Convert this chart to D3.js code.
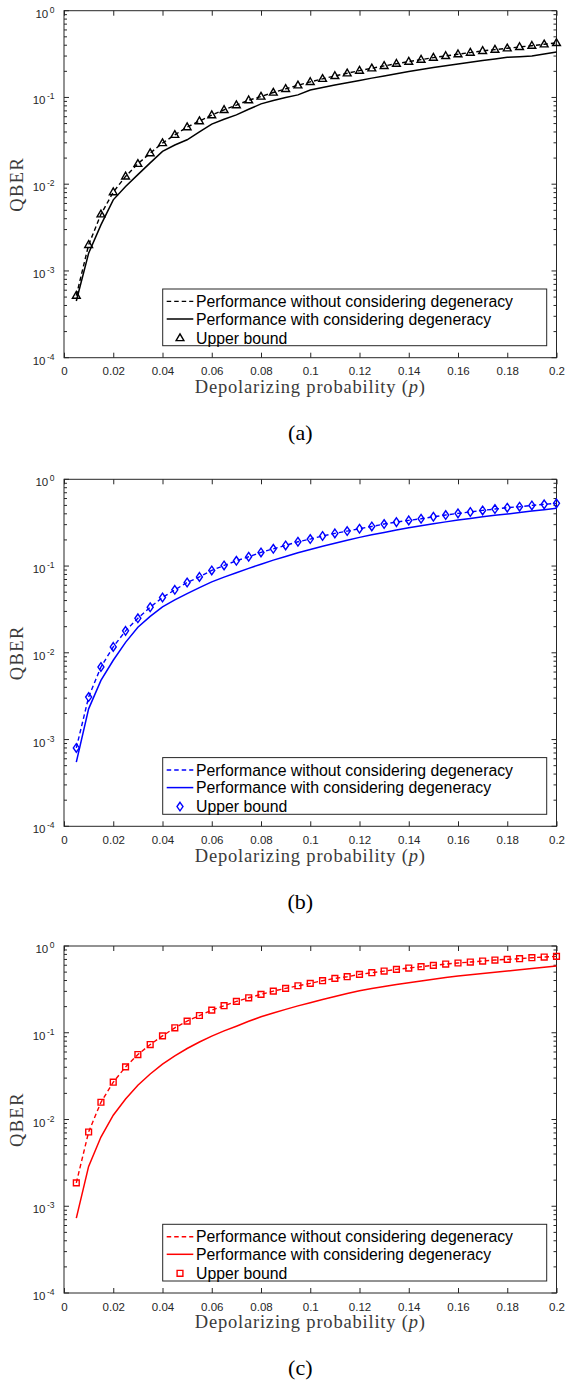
<!DOCTYPE html>
<html><head><meta charset="utf-8">
<script src="https://cdn.jsdelivr.net/npm/d3@7"></script>
<style>body{margin:0;background:#fff}svg{display:block}</style>
</head><body>
<script>
// ---------------- DATA ----------------
const pValues = [0.005,0.01,0.015,0.02,0.025,0.03,0.035,0.04,0.045,0.05,
  0.055,0.06,0.065,0.07,0.075,0.08,0.085,0.09,0.095,0.1,
  0.105,0.11,0.115,0.12,0.125,0.13,0.135,0.14,0.145,0.15,
  0.155,0.16,0.165,0.17,0.175,0.18,0.185,0.19,0.195,0.2];
const xTickValues = [0,0.02,0.04,0.06,0.08,0.1,0.12,0.14,0.16,0.18,0.2];
const xTickLabels = ["0","0.02","0.04","0.06","0.08","0.1","0.12","0.14","0.16","0.18","0.2"];
const yTickExponents = [0,-1,-2,-3,-4];
const legendLabels = ["Performance without considering degeneracy","Performance with considering degeneracy","Upper bound"];
const panelCaptions = ["(a)","(b)","(c)"];
const panelColors = ["#000000","#0000ff","#ff0000"];
const markerTypes = ["triangle","diamond","square"];
const xAxisLabel = "Depolarizing probability (";
const yAxisLabel = "QBER";

// Panel (a)
const aWithout = [5.2e-4,2.0e-3,4.5e-3,8.1e-3,0.0123,0.0172,0.0228,0.0298,0.0371,0.0455,
  0.0533,0.0625,0.072,0.0815,0.093,0.1025,0.114,0.1255,0.138,0.151,
  0.164,0.177,0.190,0.204,0.217,0.231,0.245,0.259,0.273,0.288,
  0.301,0.315,0.329,0.344,0.356,0.369,0.382,0.395,0.41,0.425];
const aWith = [4.5e-4,1.6e-3,3.4e-3,6.6e-3,9.4e-3,0.0129,0.0176,0.0239,0.0283,0.0325,
  0.040,0.0492,0.056,0.063,0.073,0.0844,0.092,0.100,0.107,0.122,
  0.130,0.139,0.148,0.157,0.167,0.177,0.188,0.199,0.210,0.221,
  0.232,0.243,0.255,0.267,0.278,0.290,0.295,0.300,0.316,0.334];
const aUpper = [5.2e-4,2.0e-3,4.5e-3,8.1e-3,0.0123,0.0172,0.0228,0.0298,0.0371,0.0455,
  0.0533,0.0625,0.072,0.0815,0.093,0.1025,0.114,0.1255,0.138,0.151,
  0.164,0.177,0.190,0.204,0.217,0.231,0.245,0.259,0.273,0.288,
  0.301,0.315,0.329,0.344,0.356,0.369,0.382,0.395,0.41,0.425];

// Panel (b)
const bWithout = [8.0e-4,3.09e-3,6.86e-3,0.0117,0.0179,0.025,0.0335,0.0434,0.0532,0.0646,
  0.075,0.089,0.1016,0.115,0.128,0.1435,0.158,0.173,0.1906,0.2047,
  0.222,0.238,0.253,0.269,0.286,0.305,0.321,0.336,0.351,0.37,
  0.387,0.405,0.42,0.438,0.454,0.471,0.483,0.5,0.514,0.528];
const bWith = [5.5e-4,2.26e-3,4.8e-3,8.2e-3,0.0132,0.0197,0.0263,0.0338,0.0407,0.0482,
  0.0565,0.0658,0.0745,0.0836,0.094,0.105,0.117,0.129,0.142,0.1555,
  0.169,0.183,0.198,0.214,0.229,0.244,0.26,0.277,0.292,0.307,
  0.323,0.339,0.354,0.369,0.384,0.398,0.414,0.43,0.446,0.463];
const bUpper = [8.0e-4,3.09e-3,6.86e-3,0.0117,0.0179,0.025,0.0335,0.0434,0.0532,0.0646,
  0.075,0.089,0.1016,0.115,0.128,0.1435,0.158,0.173,0.1906,0.2047,
  0.222,0.238,0.253,0.269,0.286,0.305,0.321,0.336,0.351,0.37,
  0.387,0.405,0.42,0.438,0.454,0.471,0.483,0.5,0.514,0.528];

// Panel (c)
const cWithout = [1.86e-3,7.18e-3,0.0158,0.0269,0.0404,0.0561,0.0731,0.092,0.114,0.136,
  0.158,0.1824,0.205,0.2297,0.253,0.2767,0.302,0.3245,0.348,0.3707,
  0.398,0.4233,0.4425,0.471,0.492,0.514,0.538,0.557,0.577,0.598,
  0.619,0.637,0.653,0.671,0.689,0.701,0.714,0.733,0.746,0.76];
const cWith = [7.3e-4,2.88e-3,6.28e-3,0.0112,0.0172,0.0248,0.0335,0.0434,0.054,0.0658,
  0.0782,0.0913,0.105,0.119,0.1355,0.153,0.169,0.186,0.204,0.222,
  0.2415,0.262,0.283,0.305,0.323,0.341,0.36,0.377,0.396,0.415,
  0.434,0.451,0.467,0.482,0.498,0.514,0.532,0.55,0.569,0.587];
const cUpper = [1.86e-3,7.18e-3,0.0158,0.0269,0.0404,0.0561,0.0731,0.092,0.114,0.136,
  0.158,0.1824,0.205,0.2297,0.253,0.2767,0.302,0.3245,0.348,0.3707,
  0.398,0.4233,0.4425,0.471,0.492,0.514,0.538,0.557,0.577,0.598,
  0.619,0.637,0.653,0.671,0.689,0.701,0.714,0.733,0.746,0.76];

const panelsData = [
  {without:aWithout, with:aWith, upper:aUpper},
  {without:bWithout, with:bWith, upper:bUpper},
  {without:cWithout, with:cWith, upper:cUpper}
];

// ---------------- LAYOUT ----------------
const W = 565, H = 1381;
const panelTops = [10.7, 479.3, 946];
const left = 64, right = 556.5, plotH = 347;
const axisColor = "#262626";
const serif = "'Liberation Serif', 'Times New Roman', serif";

const svg = d3.select("body").append("svg").attr("width", W).attr("height", H)
  .style("font-family", "'Liberation Sans', Arial, sans-serif");

function markerPath(type) {
  if (type === "triangle") return "M0,-4.2L3.9,2.6L-3.9,2.6Z";
  if (type === "diamond") return "M0,-4.3L3,0L0,4.3L-3,0Z";
  return "M-2.9,-2.9L2.9,-2.9L2.9,2.9L-2.9,2.9Z";
}

panelsData.forEach((pd, i) => {
  const top = panelTops[i], bottom = top + plotH;
  const color = panelColors[i];
  const x = d3.scaleLinear().domain([0, 0.2]).range([left, right]);
  const y = d3.scaleLog().domain([1e-4, 1]).range([bottom, top]);
  const g = svg.append("g");

  // Axis box
  g.append("rect").attr("x", left).attr("y", top).attr("width", right - left).attr("height", plotH)
    .attr("fill", "none").attr("stroke", axisColor).attr("stroke-width", 1);

  // X ticks (bottom & top, inward)
  const xAxisB = d3.axisBottom(x).tickValues(xTickValues).tickSize(-5).tickPadding(8)
    .tickFormat((d, k) => xTickLabels[k]);
  const gxb = g.append("g").attr("transform", `translate(0,${bottom})`).call(xAxisB);
  gxb.select(".domain").remove();
  gxb.selectAll(".tick line").attr("stroke", axisColor);
  gxb.selectAll(".tick text").attr("fill", axisColor).attr("font-size", 11.5)
    .attr("font-family", "'Liberation Sans', Arial, sans-serif").attr("y", 17.8).attr("dy", null);
  const xAxisT = d3.axisTop(x).tickValues(xTickValues).tickSize(-5).tickFormat("");
  const gxt = g.append("g").attr("transform", `translate(0,${top})`).call(xAxisT);
  gxt.select(".domain").remove();
  gxt.selectAll(".tick line").attr("stroke", axisColor);

  // Y ticks major/minor both sides
  const majors = yTickExponents.map(e => Math.pow(10, e));
  const minors = [];
  for (let e = -4; e < 0; e++) for (let m = 2; m <= 9; m++) minors.push(m * Math.pow(10, e));
  [[left, 1], [right, -1]].forEach(([xx, dir]) => {
    g.selectAll(null).data(majors).enter().append("line")
      .attr("x1", xx).attr("x2", xx + dir * 5).attr("y1", d => y(d)).attr("y2", d => y(d))
      .attr("stroke", axisColor).attr("stroke-width", 1);
    g.selectAll(null).data(minors).enter().append("line")
      .attr("x1", xx).attr("x2", xx + dir * 3).attr("y1", d => y(d)).attr("y2", d => y(d))
      .attr("stroke", axisColor).attr("stroke-width", 1);
  });
  // Y tick labels 10^k
  const yl = g.selectAll(null).data(yTickExponents).enter().append("text")
    .attr("x", 54.5).attr("y", e => y(Math.pow(10, e)) + 7)
    .attr("text-anchor", "end").attr("fill", axisColor).attr("font-size", 11.5);
  yl.append("tspan").text("10");
  yl.append("tspan").attr("dy", -5).attr("dx", 1.5).attr("font-size", 8.5).text(e => String(e));

  // Data lines
  const line = d3.line().x((d, k) => x(pValues[k])).y(d => y(d));
  g.append("path").datum(pd.without).attr("d", line).attr("fill", "none")
    .attr("stroke", color).attr("stroke-width", 1.4).attr("stroke-dasharray", "4.5,3");
  g.append("path").datum(pd.with).attr("d", line).attr("fill", "none")
    .attr("stroke", color).attr("stroke-width", 1.5);
  g.selectAll(null).data(pd.upper).enter().append("path")
    .attr("transform", (d, k) => `translate(${x(pValues[k])},${y(d)})`)
    .attr("d", markerPath(markerTypes[i])).attr("fill", "none")
    .attr("stroke", color).attr("stroke-width", 1.4);

  // Legend
  const lgBottom = bottom - 12, lgTop = lgBottom - 56.7;
  const lgLeft = 162.7, lgRight = 546.7;
  g.append("rect").attr("x", lgLeft).attr("y", lgTop).attr("width", lgRight - lgLeft)
    .attr("height", lgBottom - lgTop).attr("fill", "#fff").attr("stroke", axisColor).attr("stroke-width", 1);
  const rowY = [lgTop + 12.4, lgTop + 30, lgTop + 49];
  g.append("line").attr("x1", 166.7).attr("x2", 193.3).attr("y1", rowY[0]).attr("y2", rowY[0])
    .attr("stroke", color).attr("stroke-width", 1.4).attr("stroke-dasharray", "4.5,3");
  g.append("line").attr("x1", 166.7).attr("x2", 193.3).attr("y1", rowY[1]).attr("y2", rowY[1])
    .attr("stroke", color).attr("stroke-width", 1.5);
  g.append("path").attr("transform", `translate(180,${rowY[2]})`).attr("d", markerPath(markerTypes[i]))
    .attr("fill", "none").attr("stroke", color).attr("stroke-width", 1.4);
  legendLabels.forEach((t, k) => {
    g.append("text").attr("x", 196).attr("y", rowY[k]).attr("dy", "0.36em")
      .attr("font-size", 15.8).attr("fill", "#000").text(t);
  });

  // Axis labels
  const xl = g.append("text").attr("x", (left + right) / 2).attr("y", bottom + 35.3)
    .attr("text-anchor", "middle").attr("font-family", serif)
    .attr("font-size", 18.5).attr("letter-spacing", 0.8).attr("fill", "#3a3a3a");
  xl.append("tspan").text(xAxisLabel);
  xl.append("tspan").attr("font-style", "italic").text("p");
  xl.append("tspan").text(")");

  g.append("text").attr("transform", `translate(23,${(top + bottom) / 2}) rotate(-90)`)
    .attr("text-anchor", "middle").attr("font-family", serif)
    .attr("font-size", 18.5).attr("letter-spacing", 1.4).attr("fill", "#3a3a3a").text(yAxisLabel);

  // Caption
  g.append("text").attr("x", 300.3).attr("y", top + 429.3).attr("text-anchor", "middle")
    .attr("font-family", serif).attr("font-size", 22)
    .attr("fill", "#000").text(panelCaptions[i]);
});
</script>
</body></html>
